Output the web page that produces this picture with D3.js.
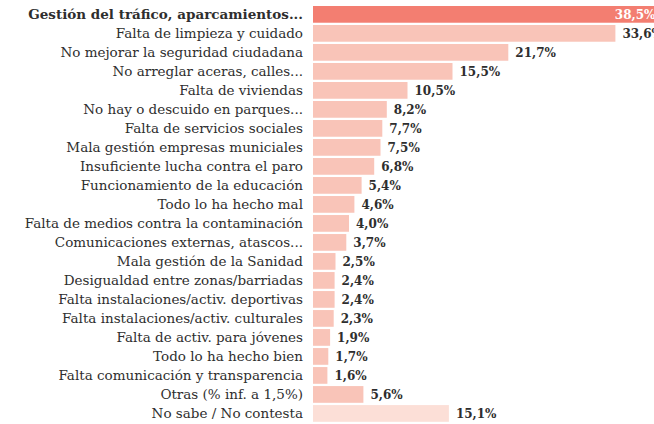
<!DOCTYPE html>
<html>
<head>
<meta charset="utf-8">
<script src="https://cdn.jsdelivr.net/npm/d3@7"></script>
<style>
  body { margin: 0; background: #fff; }
  svg { display: block; }
  .label { font-family: "DejaVu Serif", serif; font-size: 13.5px; fill: #2e2e2e; }
  .value { font-family: "DejaVu Serif", serif; font-size: 12px; font-weight: bold; fill: #2e2e2e; }
</style>
</head>
<body>
<svg width="654" height="424"></svg>
<script>
// categories, top to bottom
var categories = [
  "Gestión del tráfico, aparcamientos...",
  "Falta de limpieza y cuidado",
  "No mejorar la seguridad ciudadana",
  "No arreglar aceras, calles...",
  "Falta de viviendas",
  "No hay o descuido en parques...",
  "Falta de servicios sociales",
  "Mala gestión empresas municiales",
  "Insuficiente lucha contra el paro",
  "Funcionamiento de la educación",
  "Todo lo ha hecho mal",
  "Falta de medios contra la contaminación",
  "Comunicaciones externas, atascos...",
  "Mala gestión de la Sanidad",
  "Desigualdad entre zonas/barriadas",
  "Falta instalaciones/activ. deportivas",
  "Falta instalaciones/activ. culturales",
  "Falta de activ. para jóvenes",
  "Todo lo ha hecho bien",
  "Falta comunicación y transparencia",
  "Otras (% inf. a 1,5%)",
  "No sabe / No contesta"
];
// percentages
var values = [38.5, 33.6, 21.7, 15.5, 10.5, 8.2, 7.7, 7.5, 6.8, 5.4, 4.6,
              4.0, 3.7, 2.5, 2.4, 2.4, 2.3, 1.9, 1.7, 1.6, 5.6, 15.1];

var data = categories.map(function(c, i) {
  return { name: c, value: values[i], i: i };
});

var svg = d3.select("svg");

var x = d3.scaleLinear()
  .domain([0, 38.5])
  .range([313, 659.5]);

var y = d3.scaleBand()
  .domain(categories)
  .range([6, 421.8])
  .paddingInner(0.12)
  .paddingOuter(0);

var fmt = function(v) { return d3.format(".1f")(v).replace(".", ",") + "%"; };

function barColor(d) {
  if (d.i === 0) return "#f37e71";
  if (d.i === categories.length - 1) return "#fcdfd7";
  return "#f9c4b8";
}

var row = svg.selectAll(".row")
  .data(data)
  .enter().append("g")
  .attr("class", "row");

row.append("rect")
  .attr("x", x(0))
  .attr("y", function(d) { return y(d.name); })
  .attr("width", function(d) { return x(d.value) - x(0); })
  .attr("height", y.bandwidth())
  .attr("fill", barColor);

row.append("text")
  .attr("class", "label")
  .attr("x", 303)
  .attr("y", function(d) { return y(d.name) + y.bandwidth() / 2; })
  .attr("dy", "0.35em")
  .attr("text-anchor", "end")
  .style("font-weight", function(d) { return d.i === 0 ? "bold" : null; })
  .text(function(d) { return d.name; });

row.append("text")
  .attr("class", "value")
  .attr("x", function(d) { return d.i === 0 ? x(d.value) - 4 : x(d.value) + 7; })
  .attr("y", function(d) { return y(d.name) + y.bandwidth() / 2; })
  .attr("dy", "0.35em")
  .attr("text-anchor", function(d) { return d.i === 0 ? "end" : "start"; })
  .style("fill", function(d) { return d.i === 0 ? "#fff" : null; })
  .text(function(d) { return fmt(d.value); });
</script>
</body>
</html>
